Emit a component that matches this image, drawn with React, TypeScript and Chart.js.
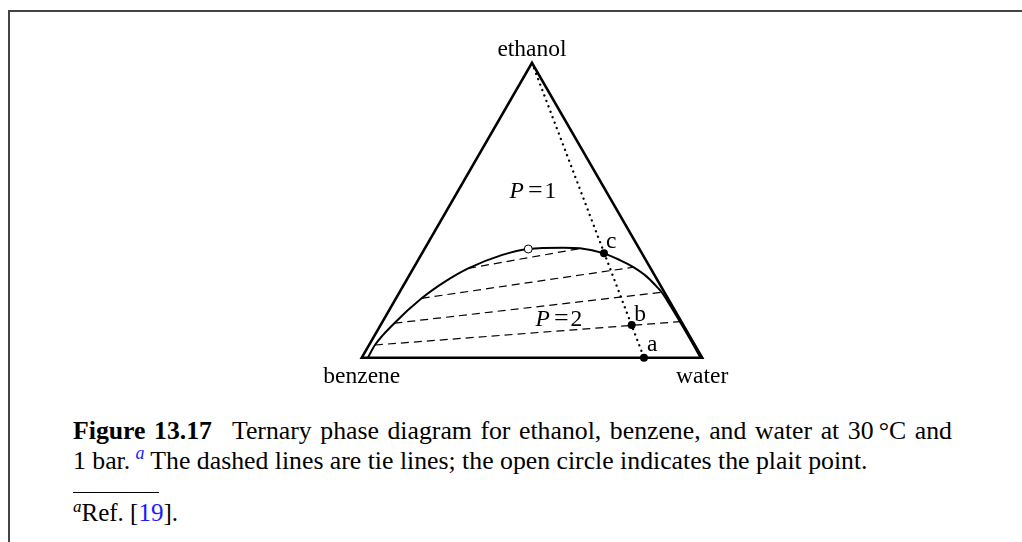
import React, { useEffect, useRef } from "react";
import { Chart, registerables } from "chart.js";

Chart.register(...registerables);

// ---------- data (mole fractions; benzene = 1 - ethanol - water) ----------
const componentNames = ["ethanol", "benzene", "water"];

// binodal (two-phase boundary) curve
const binodalEthanol = [0, 0.043, 0.117, 0.2015, 0.258, 0.303, 0.348, 0.369, 0.373, 0.371, 0.354, 0.331, 0.307, 0.275, 0.241, 0.222, 0.196, 0.16, 0.122, 0.06, 0];
const binodalWater = [0.018, 0.0172, 0.0372, 0.0752, 0.1155, 0.1612, 0.2368, 0.3048, 0.4055, 0.4555, 0.5345, 0.5928, 0.6443, 0.6996, 0.7459, 0.7701, 0.798, 0.835, 0.8737, 0.936, 0.995];

// tie lines (left end = benzene-rich phase, right end = water-rich phase)
const tieEthanolLeft = [0.043, 0.117, 0.2015, 0.303];
const tieWaterLeft = [0.0172, 0.0372, 0.0752, 0.1612];
const tieEthanolRight = [0.1221, 0.2218, 0.3067, 0.3721];
const tieWaterRight = [0.8737, 0.7701, 0.6443, 0.4637];

// labelled points a, b, c
const pointLabels = ["a", "b", "c"];
const pointEthanol = [0, 0.111, 0.3541];
const pointWater = [0.829, 0.7374, 0.5345];

// plait point
const plaitEthanol = [0.3687];
const plaitWater = [0.3048];

// region labels (number of phases P)
const regionLabels = ["1", "2"];
const regionEthanol = [0.542, 0.1075];
const regionWater = [0.232, 0.5255];

// ---------- helpers ----------
const H = Math.sqrt(3) / 2;
const toXY = (e: number, w: number) => ({ x: w + e / 2, y: e * H });

const FONT = '"Liberation Serif", "Times New Roman", serif';
const BLUE = "#1a1aff";

const labelsPlugin = {
  id: "ternaryLabels",
  afterDatasetsDraw(chart: any) {
    const { ctx, scales } = chart;
    const xs = scales.x;
    const ys = scales.y;
    const px = (e: number, w: number) => {
      const p = toXY(e, w);
      return [xs.getPixelForValue(p.x), ys.getPixelForValue(p.y)];
    };
    ctx.save();
    ctx.fillStyle = "#000";
    ctx.font = `23.5px ${FONT}`;
    ctx.textBaseline = "alphabetic";
    ctx.textAlign = "center";
    // vertex labels: ethanol (top), benzene (left), water (right)
    const [ex, ey] = px(1, 0);
    ctx.fillText(componentNames[0], ex, ey - 7);
    const [bx, by] = px(0, 0);
    ctx.fillText(componentNames[1], bx, by + 25);
    const [wx, wy] = px(0, 1);
    ctx.fillText(componentNames[2], wx, wy + 25);

    // point labels
    ctx.textAlign = "left";
    const offs = [
      [3, -6.5],
      [2.5, -4],
      [2, -5.5],
    ];
    pointLabels.forEach((t, i) => {
      const [x, y] = px(pointEthanol[i], pointWater[i]);
      ctx.fillText(t, x + offs[i][0], y + offs[i][1]);
    });

    // P = n labels
    regionLabels.forEach((n, i) => {
      const [cx, cy] = px(regionEthanol[i], regionWater[i]);
      ctx.font = `italic 23.5px ${FONT}`;
      const wP = ctx.measureText("P").width;
      ctx.font = `26px ${FONT}`;
      const wEq = ctx.measureText("=").width;
      ctx.font = `23.5px ${FONT}`;
      const wN = ctx.measureText(n).width;
      const g1 = 4;
      const g2 = 2;
      const total = wP + g1 + wEq + g2 + wN;
      let x = cx - total / 2;
      ctx.font = `italic 23.5px ${FONT}`;
      ctx.fillText("P", x, cy);
      x += wP + g1;
      ctx.font = `26px ${FONT}`;
      ctx.fillText("=", x, cy);
      x += wEq + g2;
      ctx.font = `23.5px ${FONT}`;
      ctx.fillText(n, x, cy);
    });
    ctx.restore();
  },
};

export default function App() {
  const canvasRef = useRef<HTMLCanvasElement | null>(null);

  useEffect(() => {
    if (!canvasRef.current) return;

    const triangle = [toXY(0, 0), toXY(0, 1), toXY(1, 0), toXY(0, 0), toXY(0, 1)];
    const binodal = binodalEthanol.map((e, i) => toXY(e, binodalWater[i]));
    const tieSets = tieEthanolLeft.map((e, i) => ({
      type: "line" as const,
      data: [toXY(e, tieWaterLeft[i]), toXY(tieEthanolRight[i], tieWaterRight[i])],
      borderColor: "#000",
      borderWidth: 1.2,
      borderDash: [8, 5],
      pointRadius: 0,
      fill: false,
      tension: 0,
      order: 5,
    }));
    const dotted = [toXY(1, 0), toXY(pointEthanol[0], pointWater[0])];

    const chart = new Chart(canvasRef.current, {
      type: "scatter",
      data: {
        datasets: [
          ...tieSets,
          {
            type: "line",
            data: dotted,
            borderColor: "#000",
            borderWidth: 2.4,
            borderDash: [0.01, 5.8],
            borderCapStyle: "round",
            pointRadius: 0,
            fill: false,
            order: 4,
          },
          {
            type: "line",
            data: triangle,
            borderColor: "#000",
            borderWidth: 2.6,
            borderJoinStyle: "miter",
            pointRadius: 0,
            fill: false,
            tension: 0,
            order: 3,
          },
          {
            type: "line",
            data: binodal,
            borderColor: "#000",
            borderWidth: 2,
            cubicInterpolationMode: "monotone",
            pointRadius: 0,
            fill: false,
            order: 2,
          },
          {
            type: "scatter",
            data: pointEthanol.map((e, i) => toXY(e, pointWater[i])),
            backgroundColor: "#000",
            borderColor: "#000",
            pointRadius: 4,
            borderWidth: 0,
            order: 1,
          },
          {
            type: "scatter",
            data: plaitEthanol.map((e, i) => toXY(e, plaitWater[i])),
            backgroundColor: "#fff",
            borderColor: "#000",
            pointRadius: 4,
            borderWidth: 1,
            order: 0,
          },
        ] as any,
      },
      options: {
        responsive: false,
        animation: false,
        events: [],
        layout: { padding: 0, autoPadding: false },
        plugins: {
          legend: { display: false },
          tooltip: { enabled: false },
        },
        scales: {
          x: { type: "linear", min: -1.0628, max: 1.9396, display: false },
          y: { type: "linear", min: -0.1243, max: 1.0508, display: false },
        },
      },
      plugins: [labelsPlugin],
    });
    return () => chart.destroy();
  }, []);

  const line: React.CSSProperties = {
    position: "absolute",
    left: 73,
    fontFamily: FONT,
    fontSize: 25.75,
    lineHeight: "30px",
    color: "#000",
    whiteSpace: "nowrap",
    margin: 0,
  };

  return (
    <div style={{ position: "absolute", left: 0, top: 0, width: 1022, height: 542, overflow: "hidden", background: "#fff" }}>
      <div
        style={{
          position: "absolute",
          left: 8,
          top: 10,
          width: 1100,
          height: 600,
          borderTop: "2px solid #444",
          borderLeft: "2px solid #444",
        }}
      />
      <canvas ref={canvasRef} width={1022} height={400} style={{ position: "absolute", left: 0, top: 0 }} />
      <div style={{ ...line, top: 415.5, width: 879, textAlign: "justify", textAlignLast: "justify" }}>
        <b>Figure 13.17</b>
        <span style={{ display: "inline-block", width: 20 }} />
        Ternary phase diagram for ethanol, benzene, and water at 30{"\u2009"}°C and
      </div>
      <div style={{ ...line, top: 446.2 }}>
        1 bar.{"\u2009"}
        <sup style={{ fontStyle: "italic", color: BLUE, fontSize: 18, lineHeight: 0 }}>a</sup>
        {" "}The dashed lines are tie lines; the open circle indicates the plait point.
      </div>
      <div style={{ position: "absolute", left: 73, top: 492, width: 86, borderTop: "1px solid #000" }} />
      <div style={{ ...line, top: 498.3, fontSize: 25 }}>
        <sup style={{ fontStyle: "italic", fontSize: 17, lineHeight: 0 }}>a</sup>Ref. [<span style={{ color: BLUE }}>19</span>].
      </div>
    </div>
  );
}
